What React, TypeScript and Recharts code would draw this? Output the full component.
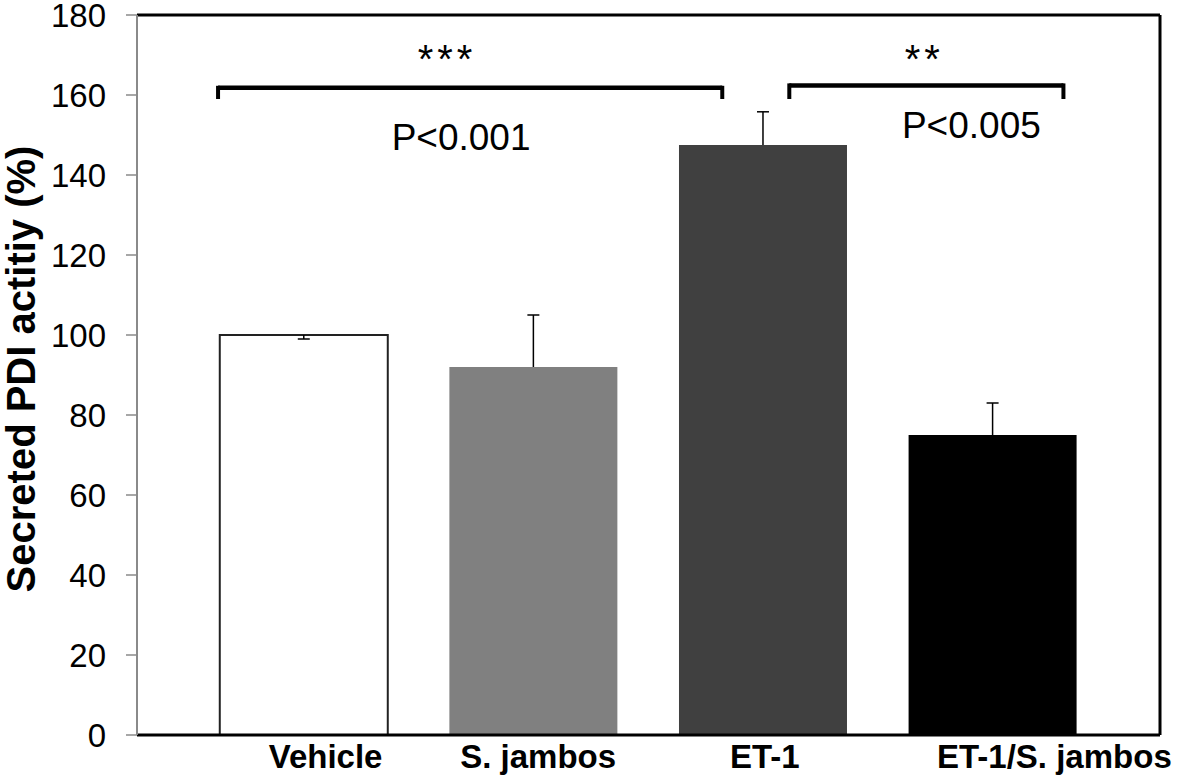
import React from "react";
import { ComposedChart, Bar, XAxis, YAxis, ReferenceLine, ReferenceDot } from "recharts";

const categories = ["Vehicle", "S. jambos", "ET-1", "ET-1/S. jambos"];
const values = [100, 92, 147.5, 75];
const errUp = [0, 13, 8.3, 8];
const errDown = [1, 0, 0, 0];
const yTicks = [0, 20, 40, 60, 80, 100, 120, 140, 160, 180];

const barColors = ["#ffffff", "#808080", "#404040", "#000000"];
const barStrokes = ["#222222", "none", "none", "none"];
const labelShift = [22, 5, 2, 62];

const X_MIN = -0.7255;
const X_MAX = 3.73;
const FONT = "'Liberation Sans', Arial, sans-serif";

const data = categories.map((c, i) => ({
  idx: i,
  name: c,
  value: values[i],
  up: errUp[i],
  down: errDown[i],
}));

const BarShape = (props: any) => {
  const { x, y, width, height, payload, index } = props;
  const ppu = height / payload.value;
  const cx = x + width / 2;
  const cap = 6;
  const parts: any[] = [];
  parts.push(
    <rect
      key="r"
      x={x}
      y={y}
      width={width}
      height={height}
      fill={barColors[index]}
      stroke={barStrokes[index]}
      strokeWidth={2}
    />
  );
  if (payload.up > 0) {
    const ty = y - payload.up * ppu;
    parts.push(<line key="u" x1={cx} x2={cx} y1={y} y2={ty} stroke="#000" strokeWidth={1.5} />);
    parts.push(<line key="uc" x1={cx - cap} x2={cx + cap} y1={ty} y2={ty} stroke="#000" strokeWidth={1.5} />);
  }
  if (payload.down > 0) {
    const by = y + payload.down * ppu;
    parts.push(<line key="d" x1={cx} x2={cx} y1={y} y2={by} stroke="#000" strokeWidth={1.5} />);
    parts.push(<line key="dc" x1={cx - cap} x2={cx + cap} y1={by} y2={by} stroke="#000" strokeWidth={1.5} />);
  }
  return <g>{parts}</g>;
};

const XTick = (props: any) => {
  const { x, y, payload } = props;
  const i = payload.value as number;
  return (
    <text
      x={x + labelShift[i]}
      y={y + 33}
      textAnchor="middle"
      fontFamily={FONT}
      fontWeight="bold"
      fontSize={33}
      fill="#000"
    >
      {categories[i]}
    </text>
  );
};

const textShape = (txt: string, size: number, spacing = 0) => (p: any) => (
  <text
    x={p.cx}
    y={p.cy}
    textAnchor="middle"
    fontFamily={FONT}
    fontSize={size}
    letterSpacing={spacing}
    fill="#000"
  >
    {txt}
  </text>
);

const YLabel = (props: any) => {
  const vb = props.viewBox || { x: 0, y: 15, height: 720 };
  const cy = vb.y + vb.height / 2 - 6;
  const lx = 35;
  return (
    <text
      x={lx}
      y={cy}
      transform={`rotate(-90, ${lx}, ${cy})`}
      textAnchor="middle"
      fontFamily={FONT}
      fontWeight="bold"
      fontSize={40}
      fill="#000"
    >
      Secreted PDI actitiy (%)
    </text>
  );
};

const bL = { y: 161.8, yt: 159, x1: -0.3725, x2: 1.8235 };
const bR = { y: 162.4, yt: 159, x1: 2.1155, x2: 3.3094 };

export default function App() {
  return (
    <div style={{ position: "absolute", left: 0, top: 0, background: "#fff" }}>
      <ComposedChart
        width={1180}
        height={779}
        data={data}
        margin={{ top: 15, right: 20, bottom: 14, left: 0 }}
      >
        <XAxis
          type="number"
          dataKey="idx"
          domain={[X_MIN, X_MAX]}
          allowDataOverflow
          ticks={[0, 1, 2, 3]}
          interval={0}
          height={30}
          axisLine={{ stroke: "#000", strokeWidth: 3 }}
          tickLine={false}
          tickSize={0}
          tickMargin={0}
          tick={<XTick />}
        />
        <YAxis
          type="number"
          domain={[0, 180]}
          ticks={yTicks}
          interval={0}
          width={137}
          axisLine={{ stroke: "#8a8a8a", strokeWidth: 2 }}
          tickLine={{ stroke: "#8a8a8a", strokeWidth: 1.5 }}
          tickSize={11}
          tickMargin={20}
          tick={{ fontSize: 33, fill: "#000", fontFamily: FONT }}
          label={{ content: <YLabel /> }}
        />
        <Bar dataKey="value" barSize={168} isAnimationActive={false} shape={<BarShape />} />
        <ReferenceLine y={180} stroke="#000" strokeWidth={3} />
        <ReferenceLine x={X_MAX} stroke="#000" strokeWidth={3} />
        <ReferenceLine segment={[{ x: bL.x1, y: bL.y }, { x: bL.x2, y: bL.y }]} stroke="#000" strokeWidth={4.5} />
        <ReferenceLine segment={[{ x: bL.x1, y: bL.y + 0.5 }, { x: bL.x1, y: bL.yt }]} stroke="#000" strokeWidth={4} />
        <ReferenceLine segment={[{ x: bL.x2, y: bL.y + 0.5 }, { x: bL.x2, y: bL.yt }]} stroke="#000" strokeWidth={4} />
        <ReferenceLine segment={[{ x: bR.x1, y: bR.y }, { x: bR.x2, y: bR.y }]} stroke="#000" strokeWidth={4.5} />
        <ReferenceLine segment={[{ x: bR.x1, y: bR.y + 0.5 }, { x: bR.x1, y: bR.yt }]} stroke="#000" strokeWidth={4} />
        <ReferenceLine segment={[{ x: bR.x2, y: bR.y + 0.5 }, { x: bR.x2, y: bR.yt }]} stroke="#000" strokeWidth={4} />
        <ReferenceDot x={0.625} y={165.5} r={0} shape={textShape("***", 40, 4)} />
        <ReferenceDot x={2.7037} y={165.5} r={0} shape={textShape("**", 40, 4)} />
        <ReferenceDot x={0.686} y={146.25} r={0} shape={textShape("P<0.001", 37)} />
        <ReferenceDot x={2.9085} y={149.25} r={0} shape={textShape("P<0.005", 37)} />
      </ComposedChart>
    </div>
  );
}
